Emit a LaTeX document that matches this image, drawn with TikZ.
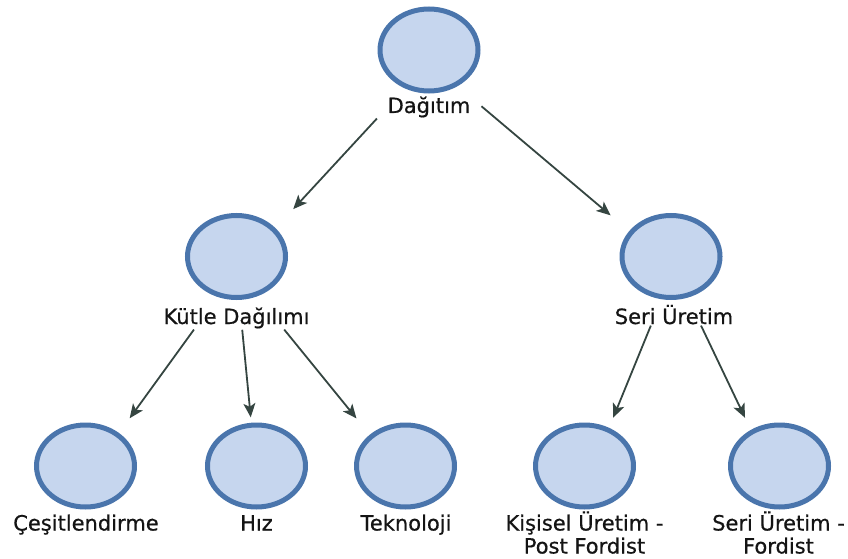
\documentclass[tikz,border=0pt]{standalone}
\usepackage{fontspec}
\setmainfont[FakeBold=0.6]{DejaVu Sans}
\usetikzlibrary{shapes.geometric,arrows.meta,fit}
\definecolor{ringblue}{HTML}{4A75AC}
\definecolor{discfill}{HTML}{C6D6EE}
\definecolor{arrowgray}{HTML}{354541}
\definecolor{labelink}{HTML}{141414}
\begin{document}
\begin{tikzpicture}[x=1pt,y=-1pt,
  disc/.style={ellipse,draw=ringblue,fill=discfill,line width=5pt,
    minimum width=98pt,minimum height=82pt,inner sep=0pt},
  caption/.style={anchor=base,inner sep=0pt,text=labelink,
    font=\fontsize{21}{23}\selectfont,align=center},
  group/.style={inner sep=0pt},
  link/.style={draw=arrowgray,line width=1.8pt,
    -{Stealth[length=14pt,width=12pt,inset=3.5pt]},
    shorten <=1pt,shorten >=5pt}]
\useasboundingbox (0,0) rectangle (848,559);

% top level
\node[disc] (d) at (429,50) {};
\node[caption] (dt) at (429,113) {Dağıtım};

% second level
\node[disc] (k) at (236.5,256.5) {};
\node[caption] (kt) at (236.5,324) {Kütle Dağılımı};
\node[disc] (s) at (671,256.5) {};
\node[caption] (st) at (674,324) {Seri Üretim};

% third level (the base anchor of a two-line caption is its last line)
\node[disc] (c) at (85.5,466) {};
\node[caption] (ct) at (86,530.5) {Çeşitlendirme};
\node[disc] (h) at (256.5,466) {};
\node[caption] (ht) at (256.5,530.5) {Hız};
\node[disc] (t) at (405.5,466) {};
\node[caption] (tt) at (406,530.5) {Teknoloji};
\node[disc] (p) at (584.5,466) {};
\node[caption] (pt) at (584.5,553.5) {Kişisel Üretim -\\Post Fordist};
\node[disc] (f) at (779.5,466) {};
\node[caption] (ft) at (778.5,553.5) {Seri Üretim -\\Fordist};

% each disc together with its caption
\node[group,fit=(d)(dt)] (gd) {};
\node[group,fit=(k)(kt)] (gk) {};
\node[group,fit=(s)(st)] (gs) {};
\node[group,fit=(c)(ct)] (gc) {};
\node[group,fit=(h)(ht)] (gh) {};
\node[group,fit=(t)(tt)] (gt) {};
\node[group,fit=(p)(pt)] (gp) {};
\node[group,fit=(f)(ft)] (gf) {};

% connectors
\draw[link] (gd) -- (gk);
\draw[link] (gd) -- (gs);
\draw[link] (gk) -- (gc);
\draw[link] (gk) -- (gh);
\draw[link] (gk) -- (gt);
\draw[link] (gs) -- (gp);
\draw[link] (gs) -- (gf);
\end{tikzpicture}
\end{document}
